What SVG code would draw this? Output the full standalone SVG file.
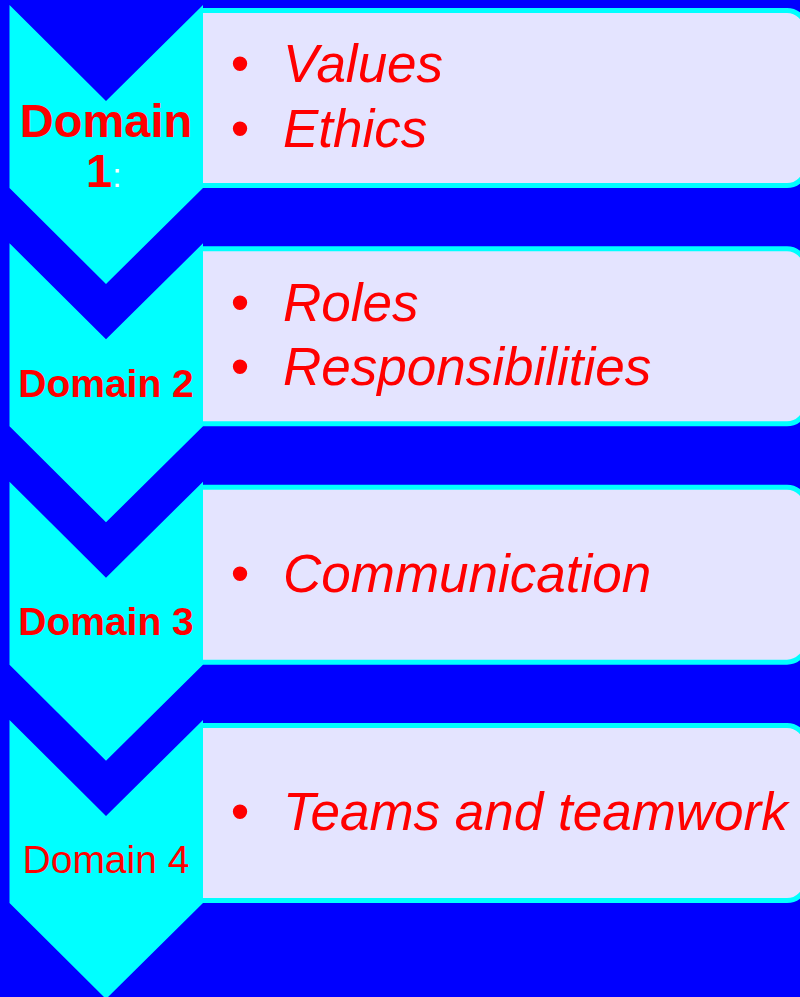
<svg xmlns="http://www.w3.org/2000/svg" width="800" height="997" viewBox="0 0 800 997">
  <style>
    .chev { fill: #00FFFF; }
    .boxfill { fill: #E4E4FF; }
    .boxline { fill: none; stroke: #00FFFF; stroke-width: 5; }
    .item { font-family: "Liberation Sans", Arial, sans-serif; font-size: 53px; font-style: italic; fill: #FF0000; }
    .bullet { font-family: "Liberation Sans", Arial, sans-serif; font-size: 53px; fill: #FF0000; text-anchor: middle; }
    .dom { font-family: "Liberation Sans", Arial, sans-serif; font-size: 39px; font-weight: bold; fill: #FF0000; text-anchor: middle; }
  </style>
  <defs>
    <path id="chevron" d="M9.5,0 L106,96 L203,0 L203,183 L106,279 L9.5,183 Z"/>
    <path id="panelfill" d="M200,0 H787 A19,19 0 0 1 806,19 V156 A19,19 0 0 1 787,175 H200 Z"/>
    <path id="panelline" d="M200,0 H787 A19,19 0 0 1 806,19 V156 A19,19 0 0 1 787,175 H200"/>
  </defs>
  <rect x="0" y="0" width="800" height="997" fill="#0000FF"/>
  <g id="connectors"/>

  <g id="domain1">
    <use href="#panelfill" class="boxfill" transform="translate(0,10.5)"/>
    <use href="#panelline" class="boxline" transform="translate(0,10.5)"/>
    <use href="#chevron" class="chev" transform="translate(0,5)"/>
    <text class="dom" x="106" y="137" style="font-size:47px">Domain</text>
    <text x="86" y="187" font-family="Liberation Sans, Arial, sans-serif"><tspan font-size="47" font-weight="bold" fill="#FF0000">1</tspan><tspan font-size="34" fill="#FFFFFF">:</tspan></text>
    <text class="bullet" x="240" y="82">•</text>
    <text class="item" x="283" y="82">Values</text>
    <text class="bullet" x="240" y="147">•</text>
    <text class="item" x="283" y="147">Ethics</text>
  </g>

  <g id="domain2">
    <use href="#panelfill" class="boxfill" transform="translate(0,248.8)"/>
    <use href="#panelline" class="boxline" transform="translate(0,248.8)"/>
    <use href="#chevron" class="chev" transform="translate(0,243.3)"/>
    <text class="dom" x="106" y="397">Domain 2</text>
    <text class="bullet" x="240" y="321">•</text>
    <text class="item" x="283" y="321">Roles</text>
    <text class="bullet" x="240" y="385">•</text>
    <text class="item" x="283" y="385">Responsibilities</text>
  </g>

  <g id="domain3">
    <use href="#panelfill" class="boxfill" transform="translate(0,487.2)"/>
    <use href="#panelline" class="boxline" transform="translate(0,487.2)"/>
    <use href="#chevron" class="chev" transform="translate(0,481.7)"/>
    <text class="dom" x="106" y="635">Domain 3</text>
    <text class="bullet" x="240" y="592">•</text>
    <text class="item" x="283" y="592">Communication</text>
  </g>

  <g id="domain4">
    <use href="#panelfill" class="boxfill" transform="translate(0,725.5)"/>
    <use href="#panelline" class="boxline" transform="translate(0,725.5)"/>
    <use href="#chevron" class="chev" transform="translate(0,720)"/>
    <text class="dom" x="106" y="873" style="font-weight:normal">Domain 4</text>
    <text class="bullet" x="240" y="830">•</text>
    <text class="item" x="283" y="830">Teams and teamwork</text>
  </g>
</svg>
